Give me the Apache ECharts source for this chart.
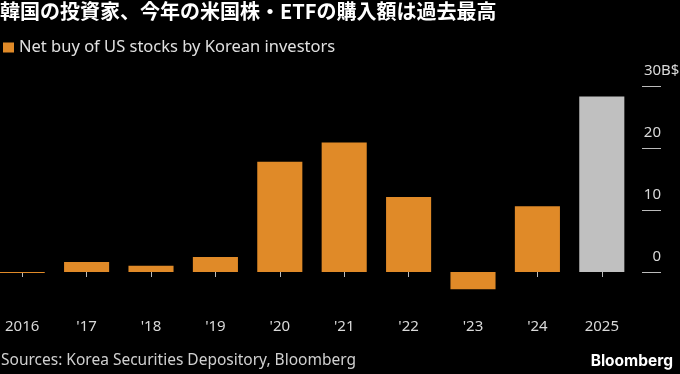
<!DOCTYPE html>
<html>
<head>
<meta charset="utf-8">
<script src="https://cdn.jsdelivr.net/npm/echarts@6/dist/echarts.min.js"></script>
<style>
html,body{margin:0;padding:0;background:#000;}
#chart{width:680px;height:374px;}
</style>
</head>
<body>
<div id="chart"></div>
<script>
const titleText = '韓国の投資家、今年の米国株・ETFの購入額は過去最高';
const seriesName = 'Net buy of US stocks by Korean investors';
const sourceText = 'Sources: Korea Securities Depository, Bloomberg';
const categories = ['2016', "'17", "'18", "'19", "'20", "'21", "'22", "'23", "'24", '2025'];
const netBuy = [-0.15, 1.6, 1.0, 2.4, 17.8, 20.9, 12.1, -2.8, 10.6, 28.3];
const highlightCategory = '2025';
const yTicks = [0, 10, 20, 30];
const yUnit = 'B$';

const ORANGE = '#e08a28';
const GREY = '#c0c0c0';
const LATIN = '"Noto Sans", "DejaVu Sans", sans-serif';

const chart = echarts.init(document.getElementById('chart'));
chart.setOption({
  backgroundColor: '#000',
  animation: false,
  title: [
    {
      text: titleText, left: 0, top: 1, padding: 0,
      textStyle: { color: '#fff', fontSize: 20, fontWeight: 'bold', fontFamily: '"Noto Sans CJK JP", sans-serif' }
    },
    {
      text: sourceText, left: 1, top: 353, padding: 0,
      textStyle: { color: '#d0d0d0', fontSize: 15.5, fontWeight: 'normal', fontFamily: LATIN }
    },
    {
      text: 'Bloomberg', right: 7, top: 353, padding: 0,
      textStyle: { color: '#fff', fontSize: 15.5, fontWeight: 'bold', fontFamily: 'Inter, Roboto, sans-serif' }
    }
  ],
  legend: {
    left: 3, top: 39, padding: 0,
    itemWidth: 11, itemHeight: 10, itemGap: 10,
    icon: 'rect',
    textStyle: { color: '#e0e0e0', fontSize: 16.5, fontFamily: LATIN },
    data: [seriesName]
  },
  grid: { left: -10, right: 46, top: 86, bottom: 71, outerBoundsMode: 'none', containLabel: false },
  xAxis: {
    type: 'category',
    data: categories,
    axisLine: { show: false },
    axisTick: { show: true, alignWithLabel: true, length: 5, lineStyle: { color: '#bbb', width: 1 } },
    axisLabel: { color: '#d9d9d9', fontSize: 15, fontFamily: LATIN, margin: 16 },
    splitLine: { show: false }
  },
  yAxis: {
    type: 'value',
    position: 'right',
    offset: 8,
    min: -5,
    max: 30,
    axisLine: { show: false },
    splitLine: { show: false },
    axisTick: {
      show: true, inside: false, length: 19, customValues: yTicks,
      lineStyle: { color: '#bbb', width: 1 }
    },
    axisLabel: {
      customValues: yTicks,
      align: 'left',
      verticalAlign: 'bottom',
      margin: 2,
      lineHeight: 14,
      padding: [0, 0, 8, 0],
      color: '#d9d9d9', fontSize: 15, fontFamily: LATIN,
      formatter: function (v) {
        return '{n|' + v + '}' + (v === yTicks[yTicks.length - 1] ? '{u|' + yUnit + '}' : '');
      },
      rich: {
        n: { width: 17, align: 'right', color: '#d9d9d9', fontSize: 15, fontFamily: LATIN, lineHeight: 14 },
        u: { color: '#d9d9d9', fontSize: 15, fontFamily: LATIN, lineHeight: 14 }
      }
    }
  },
  series: [{
    name: seriesName,
    type: 'bar',
    barCategoryGap: '30%',
    itemStyle: { color: ORANGE },
    data: netBuy.map(function (v, i) {
      return categories[i] === highlightCategory ? { value: v, itemStyle: { color: GREY } } : v;
    })
  }]
});
</script>
</body>
</html>
